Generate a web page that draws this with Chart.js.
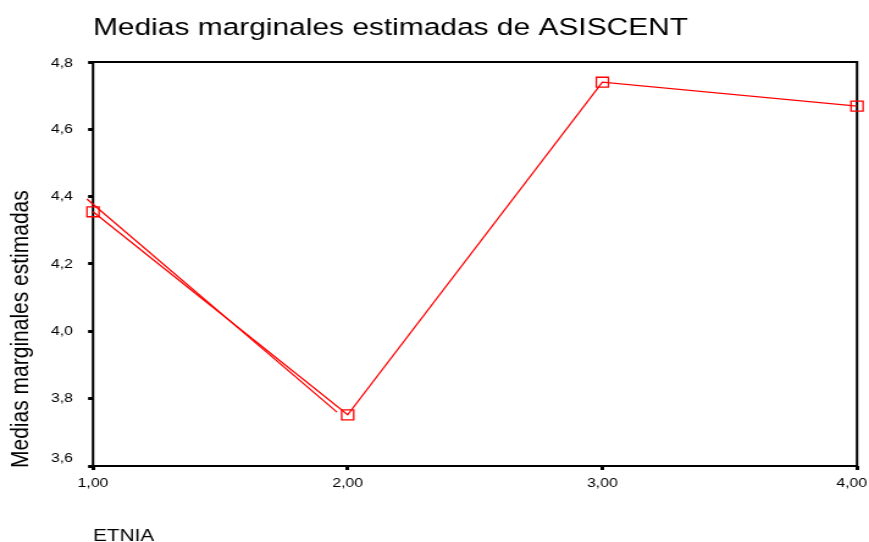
<!DOCTYPE html>
<html>
<head>
<meta charset="utf-8">
<script src="https://cdn.jsdelivr.net/npm/chart.js@4/dist/chart.umd.min.js"></script>
<style>
  html, body { margin: 0; padding: 0; background: #fff; overflow: hidden; }
  /* the chart is laid out narrower and widened to the page width */
  #stage { width: 712px; height: 542px; transform: scaleX(1.2205); transform-origin: 0 0; }
</style>
</head>
<body>
<div id="stage"><canvas id="chart" width="712" height="542"></canvas></div>
<script>
// Estimated marginal means of ASISCENT by ETNIA
const etnia = [1, 2, 3, 4];
const medias = [4.355, 3.752, 4.740, 4.669];

// loose stroke running alongside the first segment
const trazoEtnia = [0.976, 1.958];
const trazoMedias = [4.393, 3.760];

const xTicks = [1, 2, 3, 4];
const yTicks = [3.6, 3.8, 4.0, 4.2, 4.4, 4.6, 4.8];

const titulo = 'Medias marginales estimadas de ASISCENT';
const tituloEjeY = 'Medias marginales estimadas';
const tituloEjeX = 'ETNIA';

const FONT = '"Liberation Sans", Arial, Helvetica, sans-serif';
const ROJO = '#ff0000';

const coma = (v, d) => Number(v).toFixed(d).replace('.', ',');

// black frame around the plotting area
const marco = {
  id: 'marco',
  beforeDatasetsDraw(chart) {
    const { ctx, chartArea: a } = chart;
    ctx.save();
    ctx.strokeStyle = '#000';
    ctx.lineWidth = 2;
    ctx.strokeRect(a.left, a.top, a.right - a.left, a.bottom - a.top);
    ctx.restore();
  }
};

// keep the end labels of both axes inside the frame area
const etiquetasExtremas = {
  id: 'etiquetasExtremas',
  beforeDraw(chart) {
    const xs = chart.scales.x.getLabelItems(chart.chartArea);
    const lastX = xs[xs.length - 1];
    if (lastX) {
      lastX.options.textAlign = 'right';
      lastX.options.translation[0] = chart.width - 1.5;
    }
    const ys = chart.scales.y.getLabelItems(chart.chartArea);
    if (ys.length) {
      ys[0].options.translation[1] -= 8;
      ys[ys.length - 1].options.translation[1] += 1.5;
    }
  }
};

// chart title and the vertical axis caption
const textos = {
  id: 'textos',
  afterDraw(chart) {
    const { ctx, chartArea: a } = chart;
    ctx.save();
    ctx.fillStyle = '#000';
    ctx.textAlign = 'left';
    ctx.textBaseline = 'alphabetic';
    ctx.font = '24.5px ' + FONT;
    ctx.fillText(titulo, a.left, 35);

    ctx.font = '21px ' + FONT;
    ctx.translate(22.5, a.bottom + 2);
    ctx.rotate(-Math.PI / 2);
    ctx.textAlign = 'left';
    ctx.fillText(tituloEjeY, 0, 0);
    ctx.restore();
  }
};

new Chart(document.getElementById('chart'), {
  type: 'line',
  data: {
    datasets: [
      {
        data: etnia.map((x, i) => ({ x, y: medias[i] })),
        borderColor: ROJO,
        borderWidth: 1.3,
        pointStyle: 'rect',
        pointRadius: 7,
        pointBorderWidth: 1.3,
        pointBorderColor: ROJO,
        pointBackgroundColor: 'rgba(0,0,0,0)',
        tension: 0,
        clip: false
      },
      {
        data: trazoEtnia.map((x, i) => ({ x, y: trazoMedias[i] })),
        borderColor: ROJO,
        borderWidth: 1.3,
        pointRadius: 0,
        tension: 0,
        clip: false
      }
    ]
  },
  options: {
    responsive: false,
    animation: false,
    devicePixelRatio: 1,
    layout: { padding: { top: 62, right: 9.8, bottom: 0, left: 0 } },
    plugins: { legend: { display: false }, tooltip: { enabled: false } },
    scales: {
      x: {
        type: 'linear',
        min: 1,
        max: 4,
        afterBuildTicks(s) { s.ticks = xTicks.map(v => ({ value: v })); },
        afterFit(s) { s.height = 76; s.paddingLeft = 0; s.paddingRight = 0; },
        border: { display: false },
        grid: { drawOnChartArea: false, drawTicks: true, tickLength: 4, tickWidth: 3, tickColor: '#000' },
        ticks: {
          autoSkip: false, maxRotation: 0, padding: 6, color: '#000',
          font: { family: FONT, size: 13 },
          callback: v => coma(v, 2)
        },
        title: {
          display: true, text: tituloEjeX, align: 'start', color: '#000',
          font: { family: FONT, size: 17, lineHeight: 0.7 },
          padding: { top: 0, bottom: 0 }
        }
      },
      y: {
        min: 3.6,
        max: 4.8,
        afterBuildTicks(s) { s.ticks = yTicks.map(v => ({ value: v })); },
        afterFit(s) { s.width = 76.2; s.paddingTop = 0; s.paddingBottom = 0; },
        border: { display: false },
        grid: { drawOnChartArea: false, drawTicks: true, tickLength: 4, tickWidth: 3, tickColor: '#000' },
        ticks: {
          autoSkip: false, padding: 12.4, color: '#000',
          font: { family: FONT, size: 13 },
          callback: v => coma(v, 1)
        }
      }
    }
  },
  plugins: [marco, etiquetasExtremas, textos]
});
</script>
</body>
</html>
